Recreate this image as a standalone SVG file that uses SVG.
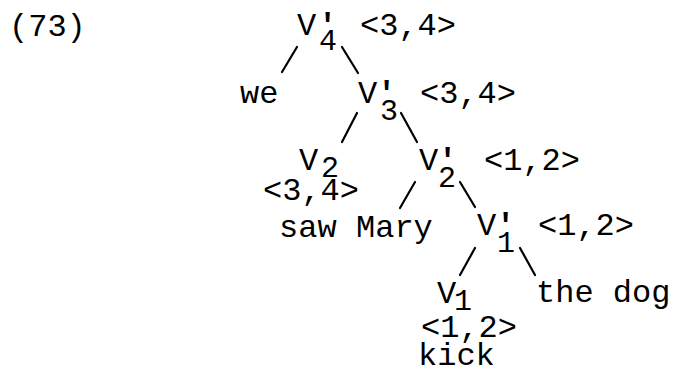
<svg xmlns="http://www.w3.org/2000/svg" width="676" height="370" viewBox="0 0 676 370">
<style>
text{font-family:"Liberation Mono","Courier New",monospace;font-size:32px;fill:#000}
.s{font-size:30px}
.p{font-weight:bold}
line{stroke:#000;stroke-width:2.2;stroke-linecap:round}
</style>
<rect width="676" height="370" fill="#fff"/>
<text x="9" y="36">(73)</text>
<g id="edges">
<line x1="297" y1="47" x2="282" y2="72"/>
<line x1="342" y1="47" x2="358" y2="73"/>
<line x1="357" y1="113" x2="342" y2="142"/>
<line x1="401" y1="113" x2="417" y2="142"/>
<line x1="415" y1="182" x2="400" y2="208"/>
<line x1="460" y1="182" x2="475" y2="207"/>
<line x1="475" y1="248" x2="460" y2="275"/>
<line x1="520" y1="248" x2="535" y2="275"/>
</g>
<g id="v4"><text x="297" y="35">V<tspan class="p" x="318" y="35">'</tspan><tspan class="s" x="319" y="50">4</tspan></text><text x="360" y="35">&lt;3,4&gt;</text></g>
<g id="we"><text x="240" y="103">we</text></g>
<g id="v3"><text x="358" y="103">V<tspan class="p" x="377" y="103">'</tspan><tspan class="s" x="380" y="120">3</tspan></text><text x="420" y="103">&lt;3,4&gt;</text></g>
<g id="v2"><text x="299" y="170">V<tspan class="s" x="321" y="177">2</tspan></text><text x="263" y="200">&lt;3,4&gt;</text><text x="279" y="237">saw</text></g>
<g id="v2p"><text x="419" y="170">V<tspan class="p" x="438" y="170">'</tspan><tspan class="s" x="438" y="187">2</tspan></text><text x="484" y="170">&lt;1,2&gt;</text></g>
<g id="mary"><text x="356" y="237">Mary</text></g>
<g id="v1p"><text x="477" y="235">V<tspan class="p" x="496" y="235">'</tspan><tspan class="s" x="497" y="252">1</tspan></text><text x="538" y="235">&lt;1,2&gt;</text></g>
<g id="thedog"><text x="536" y="302">the dog</text></g>
<g id="v1"><text x="437" y="303">V<tspan class="s" x="454" y="310">1</tspan></text><text x="421" y="337">&lt;1,2&gt;</text><text x="418" y="365">kick</text></g>
</svg>
